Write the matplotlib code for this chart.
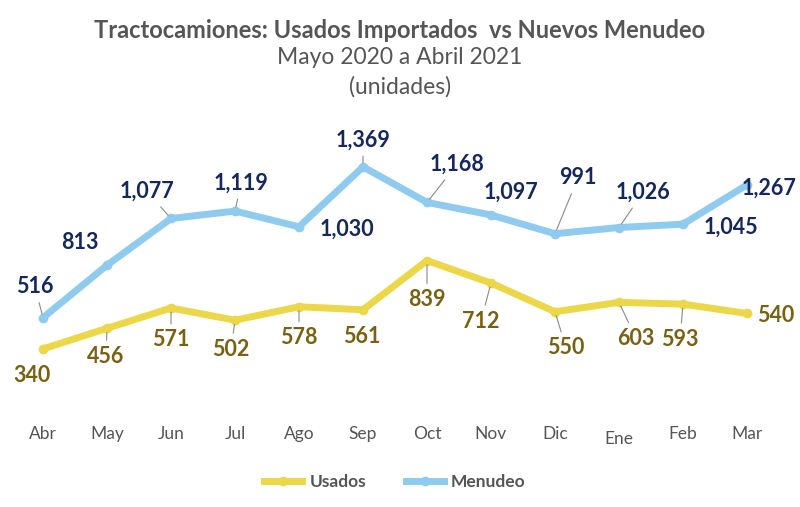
import numpy as np
import matplotlib.pyplot as plt
from matplotlib.lines import Line2D

plt.rcParams['font.family'] = ['Lato', 'DejaVu Sans']

meses = ['Abr', 'May', 'Jun', 'Jul', 'Ago', 'Sep', 'Oct', 'Nov', 'Dic', 'Ene', 'Feb', 'Mar']
menudeo = [516, 813, 1077, 1119, 1030, 1369, 1168, 1097, 991, 1026, 1045, 1267]
usados = [340, 456, 571, 502, 578, 561, 839, 712, 550, 603, 593, 540]

# label offsets in pixels (dx, dy) and whether a leader line is drawn
off_menudeo = [(-8, 31), (-27, 23), (-24, 27), (6, 28), (48, -2), (0, 27),
               (30, 38), (20, 23), (23, 56), (24, 35), (48, -3), (22, -3)]
lead_menudeo = [1, 0, 1, 1, 0, 1, 1, 0, 1, 1, 0, 0]
off_usados = [(-11, -27), (-1, -28), (0, -32), (-4, -29), (0, -31), (-1, -27),
              (0, -39), (-10, -38), (11, -36), (17, -36), (-3, -35), (29, -2)]
lead_usados = [0, 1, 1, 1, 1, 0, 1, 1, 1, 1, 1, 0]

c_usados = '#ecd748'
c_menudeo = '#8fcbef'
c_txt_u = '#7a6112'
c_txt_m = '#14285e'
gray = '#555555'

fig = plt.figure(figsize=(8, 5.07), dpi=100)
ax = fig.add_axes([0.0, 0.1933, 1.0, 0.5582])
x = np.arange(len(meses))

ax.plot(x, usados, color=c_usados, lw=5, marker='o', ms=6, solid_capstyle='round', zorder=3)
ax.plot(x, menudeo, color=c_menudeo, lw=5, marker='o', ms=6, solid_capstyle='round', zorder=3)

ax.set_xlim(-43 / 64, 757 / 64)
ax.set_ylim(0, 1600)


def label(vals, offs, leads, color):
    for i, v in enumerate(vals):
        arrow = None
        if leads[i]:
            arrow = dict(arrowstyle='-', color='#8a8a8a', lw=0.8, shrinkA=2, shrinkB=3)
        ax.annotate(f'{v:,}', xy=(i, v), xytext=offs[i], textcoords='offset pixels',
                    ha='center', va='center', fontsize=15.5, fontweight='bold',
                    color=color, arrowprops=arrow, zorder=4)


label(menudeo, off_menudeo, lead_menudeo, c_txt_m)
label(usados, off_usados, lead_usados, c_txt_u)

ax.set_yticks([])
ax.set_xticks(x)
ax.set_xticklabels(meses, fontsize=12.5, color=gray)
ax.tick_params(axis='x', length=0, pad=12)
for i, t in enumerate(ax.get_xticklabels()):
    if meses[i] == 'Ene':
        t.set_y(-0.018)
for s in ax.spines.values():
    s.set_visible(False)

fig.text(0.5, 1 - 30 / 507, 'Tractocamiones: Usados Importados  vs Nuevos Menudeo',
         ha='center', va='center', fontsize=17, fontweight='bold', color=gray)
fig.text(0.5, 1 - 58 / 507, 'Mayo 2020 a Abril 2021', ha='center', va='center',
         fontsize=16.5, color=gray)
fig.text(0.5, 1 - 87 / 507, '(unidades)', ha='center', va='center', fontsize=16.5, color=gray)

handles = [Line2D([], [], color=c_usados, lw=5, marker='o', ms=6),
           Line2D([], [], color=c_menudeo, lw=5, marker='o', ms=6)]
leg = fig.legend(handles, ['Usados', 'Menudeo'], loc='center', bbox_to_anchor=(395 / 800, 1 - 482 / 507),
                 ncol=2, frameon=False, handlelength=2.2, handletextpad=0.4, columnspacing=2.3,
                 prop={'weight': 'bold', 'size': 12.5})
for t in leg.get_texts():
    t.set_color(gray)

fig.savefig('out.png', dpi=100)
